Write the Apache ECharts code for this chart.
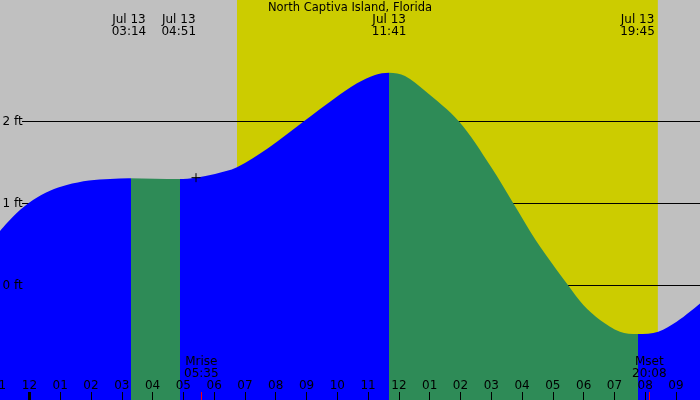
<!DOCTYPE html>
<html><head><meta charset="utf-8">
<script src="https://cdn.jsdelivr.net/npm/echarts@6/dist/echarts.min.js"></script>
<style>html,body{margin:0;padding:0;background:#c0c0c0}#c{width:700px;height:400px}</style>
</head><body><div id="c"></div>
<script>
// ---- data (hours since midnight Jul 13, tide height in feet) ----
const titleText = 'North Captiva Island, Florida';
const tideHours = [-1.0, -0.412, 0.117, 0.669, 1.211, 1.936, 2.618, 3.233, 4.079, 4.85, 5.411, 6.028, 6.742, 7.749, 8.905, 9.919, 10.64, 11.225, 11.683, 12.199, 12.816, 13.953, 14.99, 15.72, 16.44, 17.126, 17.502, 17.99, 18.532, 19.18, 19.75, 20.425, 21.02, 21.45, 22.0];
const tideFeet = [0.646, 0.884, 1.043, 1.156, 1.226, 1.280, 1.299, 1.307, 1.302, 1.299, 1.315, 1.36, 1.441, 1.673, 2.0, 2.283, 2.466, 2.567, 2.595, 2.555, 2.384, 2.0, 1.449, 1.0, 0.555, 0.189, 0.0, -0.238, -0.42, -0.563, -0.591, -0.563, -0.441, -0.32, -0.148];
const extremeHours = [3.233, 4.85, 11.683, 19.75];
const extremeLabels = ['Jul 13\n03:14', 'Jul 13\n04:51', 'Jul 13\n11:41', 'Jul 13\n19:45'];
const phaseBreaks = [3.30, 4.89, 11.69, 19.78]; // rising | falling | rising | falling | rising
const sunHours = [6.742, 20.41];
const moonHours = [5.583, 20.133];
const moonLabels = ['Mrise\n05:35', 'Mset\n20:08'];
const hourTicks = [-1, 0, 1, 2, 3, 4, 5, 6, 7, 8, 9, 10, 11, 12, 13, 14, 15, 16, 17, 18, 19, 20, 21, 22];
const hourLabels = ['11', '12', '01', '02', '03', '04', '05', '06', '07', '08', '09', '10', '11', '12', '01', '02', '03', '04', '05', '06', '07', '08', '09', '10'];
const dayTicks = [0];
const feetTicks = [0, 1, 2];
const feetLabels = ['0 ft', '1 ft', '2 ft'];
const nowPoint = [5.411, 1.315];

// ---- styling ----
const BLUE = '#0000FF', GREEN = '#2E8B57', YELLOW = '#CCCC00', GRAY = '#C0C0C0';
const FONT = 'DejaVu Sans';
const txt = { fontFamily: FONT, fontSize: 12, color: '#000', lineHeight: 12 };
const X_MIN = -1, X_MAX = 22, Y_MIN = -1.3963, Y_MAX = 3.4817;
const lineStart = -0.24;

const chart = echarts.init(document.getElementById('c'), null, { renderer: 'canvas' });
const baseX = { type: 'value', min: X_MIN, max: X_MAX, position: 'bottom', z: 10,
  axisLine: { show: false, onZero: false }, splitLine: { show: false } };

const levelSeries = feetTicks.map(f => ({
  type: 'line', z: 2, silent: true, showSymbol: false, symbol: 'none',
  data: [[lineStart, f], [X_MAX, f]],
  lineStyle: { color: '#000', width: 1 }
}));

chart.setOption({
  animation: false,
  backgroundColor: GRAY,
  title: { text: titleText, left: 'center', top: 0, padding: [2, 0, 0, 0],
    textStyle: Object.assign({}, txt, { fontWeight: 'normal', fontSize: 11.5 }) },
  grid: { left: -1.39, right: -6.8, top: 0, bottom: 0, containLabel: false, outerBoundsMode: 'none' },
  xAxis: [
    Object.assign({}, baseX, {
      interval: 1,
      axisTick: { inside: true, length: 8, lineStyle: { color: '#000', width: 1 } },
      axisLabel: Object.assign({}, txt, { inside: true, margin: 8, showMinLabel: true, showMaxLabel: true, hideOverlap: false,
        formatter: v => hourLabels[hourTicks.indexOf(Math.round(v))] })
    }),
    Object.assign({}, baseX, {
      axisTick: { inside: true, length: 8, customValues: dayTicks, lineStyle: { color: '#000', width: 3 } },
      axisLabel: { show: false }
    }),
    Object.assign({}, baseX, {
      axisTick: { inside: true, length: 8, customValues: moonHours, lineStyle: { color: '#FF0000', width: 1 } },
      axisLabel: Object.assign({}, txt, { inside: true, margin: 20, customValues: moonHours,
        formatter: v => moonLabels[moonHours.indexOf(v)] })
    }),
    Object.assign({}, baseX, {
      position: 'top',
      axisTick: { show: false },
      axisLabel: Object.assign({}, txt, { inside: true, margin: 14, customValues: extremeHours,
        formatter: v => extremeLabels[extremeHours.indexOf(v)] })
    })
  ],
  yAxis: {
    type: 'value', min: Y_MIN, max: Y_MAX, position: 'left', z: 10,
    axisLine: { show: false, onZero: false }, axisTick: { show: false }, splitLine: { show: false },
    axisLabel: Object.assign({}, txt, { inside: true, margin: 4, customValues: feetTicks,
      formatter: v => feetLabels[feetTicks.indexOf(v)] })
  },
  visualMap: {
    type: 'piecewise', show: false, dimension: 0, seriesIndex: 1,
    pieces: [
      { lt: phaseBreaks[0], color: BLUE },
      { gte: phaseBreaks[0], lt: phaseBreaks[1], color: GREEN },
      { gte: phaseBreaks[1], lt: phaseBreaks[2], color: BLUE },
      { gte: phaseBreaks[2], lt: phaseBreaks[3], color: GREEN },
      { gte: phaseBreaks[3], color: BLUE }
    ]
  },
  series: [
    {
      type: 'line', data: [], z: 1, silent: true,
      markArea: { silent: true, itemStyle: { color: YELLOW, opacity: 1 },
        data: [[{ xAxis: sunHours[0] }, { xAxis: sunHours[1] }]] }
    },
    {
      type: 'line', z: 3, silent: true, smooth: 0.33, showSymbol: false, symbol: 'none',
      data: tideHours.map((h, i) => [h, tideFeet[i]]),
      lineStyle: { width: 0 },
      areaStyle: { opacity: 1, origin: 'start' }
    },
    {
      type: 'scatter', z: 4, silent: true, data: [nowPoint],
      symbol: 'path://M0 4.5H9M4.5 0V9', symbolSize: 9,
      itemStyle: { color: 'none', borderColor: '#000', borderWidth: 1, opacity: 1 }
    }
  ].concat(levelSeries)
});
</script>
</body></html>
